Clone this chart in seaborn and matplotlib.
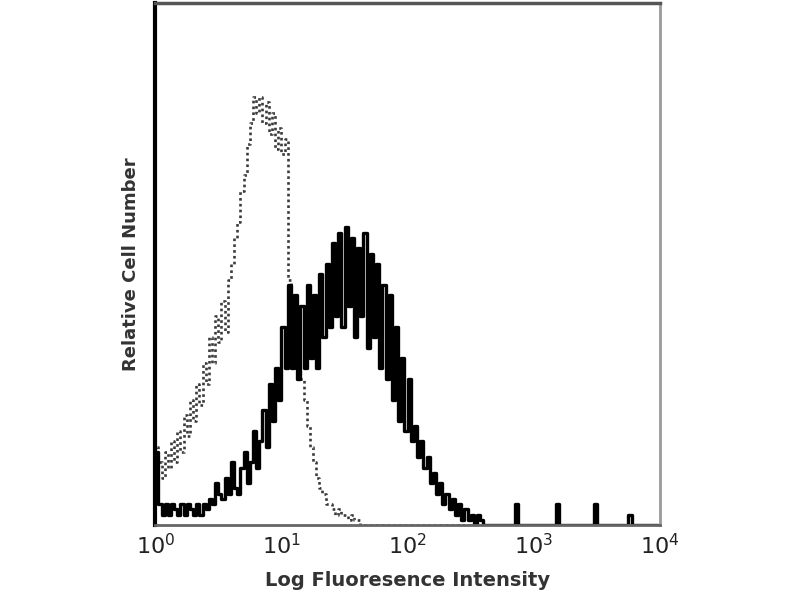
import numpy as np
import matplotlib
matplotlib.use("Agg")
import matplotlib.pyplot as plt
import pandas as pd
import seaborn as sns

# channel width in decades (log10), 4 decades total
bin_width = 0.025
n_bins = 160

# stained sample (solid black), relative counts per channel
stained = [14, 4, 2, 4, 2, 4, 3, 2, 4, 2,
           4, 3, 2, 4, 2, 4, 3, 5, 4, 8,
           6, 5, 9, 6, 12, 7, 6, 11, 14, 8,
           12, 18, 11, 16, 22, 15, 27, 20, 30, 24,
           38, 30, 46, 30, 44, 28, 42, 30, 46, 32,
           44, 30, 48, 36, 50, 38, 54, 40, 56, 38,
           57, 42, 55, 36, 53, 40, 56, 34, 52, 36,
           50, 30, 46, 28, 44, 24, 38, 20, 32, 18,
           28, 16, 19, 13, 16, 11, 13, 8, 10, 6,
           8, 4, 6, 3, 5, 2, 4, 1, 3, 1,
           2, 0, 2, 1]
# isolated single events further right (channel index, count)
stained_spikes = {114: 4, 127: 4, 139: 4, 150: 2}

# isotype control (dotted grey)
isotype = [15, 12, 9, 14, 11, 16, 12, 18, 14, 21,
           17, 24, 20, 27, 23, 31, 27, 36, 31, 40,
           35, 43, 37, 47, 50, 55, 58, 64, 67, 73,
           77, 82, 79, 82, 77, 81, 75, 79, 72, 76,
           71, 74, 47, 44, 38, 33, 28, 24, 19, 15,
           12, 9, 7, 6, 4, 4, 3, 2, 3, 2,
           2, 1, 2, 1, 1, 0]

tick_labels = ["$10^0$", "$10^1$", "$10^2$", "$10^3$", "$10^4$"]


def pad(values, spikes=None):
    out = np.zeros(n_bins)
    out[:len(values)] = values
    if spikes:
        for k, v in spikes.items():
            out[k] = v
    return out


centers = 10 ** (bin_width / 2 + bin_width * np.arange(n_bins))
df = pd.DataFrame({"fl": centers,
                   "stained": pad(stained, stained_spikes),
                   "isotype": pad(isotype)})

sns.set_style("white")
fig = plt.figure(figsize=(8, 6), dpi=100)
ax = fig.add_axes([0.194, 0.125, 0.631, 0.87])
ax.set_xscale("log")

sns.lineplot(data=df, x="fl", y="isotype", ax=ax, color="#3a3a3a",
             linewidth=1.9, linestyle=(0, (1, 1.2)), drawstyle="steps-mid")
sns.lineplot(data=df, x="fl", y="stained", ax=ax, color="black",
             linewidth=2.4, drawstyle="steps-mid")

ax.set_xlim(1, 1e4)
ax.set_ylim(0, 100)
ax.set_xticks([1, 10, 100, 1000, 10000])
ax.set_xticklabels(tick_labels, fontsize=16, color="#222222")
ax.xaxis.set_minor_locator(matplotlib.ticker.NullLocator())
ax.set_yticks([])
ax.tick_params(axis="x", direction="in", length=5, width=1.2, pad=6)

for side, col, lw in [("left", "black", 3), ("top", "#555555", 2.5),
                      ("right", "#999999", 2), ("bottom", "#666666", 2)]:
    ax.spines[side].set_color(col)
    ax.spines[side].set_linewidth(lw)

ax.set_xlabel("Log Fluoresence Intensity", fontsize=14, fontweight="bold",
              color="#333333", labelpad=9)
ax.set_ylabel("Relative Cell Number", fontsize=13, fontweight="bold",
              color="#333333", labelpad=11)

fig.savefig("out.png", dpi=100)
